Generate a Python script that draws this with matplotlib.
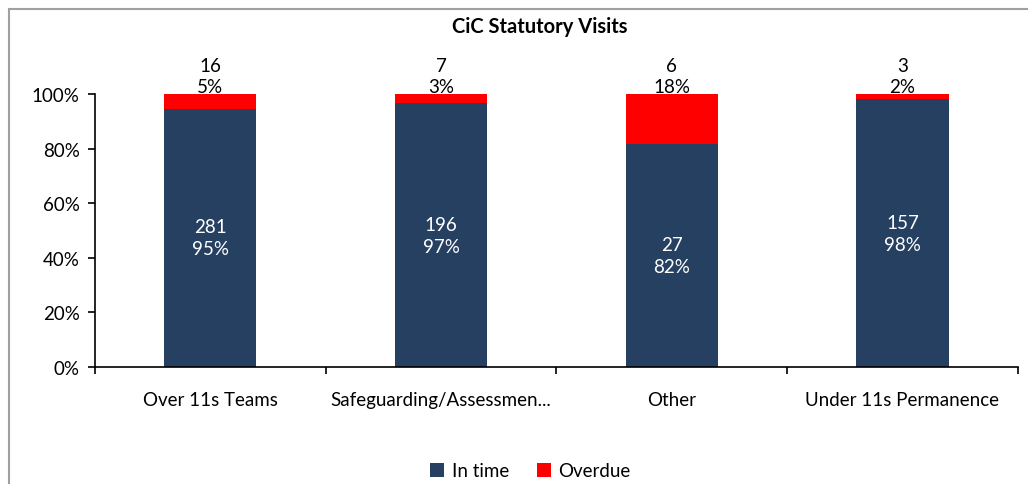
import matplotlib.pyplot as plt
from matplotlib.patches import Rectangle
from matplotlib.ticker import PercentFormatter
import numpy as np

plt.rcParams['font.family'] = ['Lato', 'DejaVu Sans']

categories = ["Over 11s Teams", "Safeguarding/Assessmen...", "Other", "Under 11s Permanence"]
in_time = [281, 196, 27, 157]
overdue = [16, 7, 6, 3]

navy = "#254061"
red = "#FF0000"
fs = 13.5

in_time = np.array(in_time)
overdue = np.array(overdue)
total = in_time + overdue
p_in = in_time / total
p_over = overdue / total

fig = plt.figure(figsize=(10.28, 4.85), dpi=100)
ax = fig.add_axes([0.0924, 0.2412, 0.8976, 0.5629])

x = np.arange(len(categories))
ax.bar(x, p_in, width=0.4, color=navy, label="In time")
ax.bar(x, p_over, width=0.4, bottom=p_in, color=red, label="Overdue")

# count + share labels
for i in range(len(x)):
    ax.text(x[i], p_in[i] / 2, f"{in_time[i]}\n{round(p_in[i] * 100):.0f}%",
            ha="center", va="center", color="white", fontsize=fs, linespacing=1.35)
    ax.annotate(f"{overdue[i]}\n{round(p_over[i] * 100):.0f}%", (x[i], 1.0),
                xytext=(0, -1), textcoords="offset points",
                ha="center", va="bottom", fontsize=fs, linespacing=1.35)

ax.set_xlim(-0.5, len(categories) - 0.5)
ax.set_ylim(0, 1)
ax.set_yticks(np.arange(0, 1.01, 0.2))
ax.yaxis.set_major_formatter(PercentFormatter(1.0, decimals=0))
ax.set_xticks(np.arange(-0.5, len(categories), 1.0))
ax.set_xticklabels([])
ax.set_xticks(x, minor=True)
ax.set_xticklabels(categories, minor=True)
ax.tick_params(axis="x", which="minor", length=0, pad=17, labelsize=fs)
ax.tick_params(axis="x", which="major", direction="out", length=5, width=1.2)
ax.tick_params(axis="y", direction="out", length=5, width=1.2, labelsize=fs, pad=6)
for s in ["top", "right"]:
    ax.spines[s].set_visible(False)
for s in ["left", "bottom"]:
    ax.spines[s].set_linewidth(1.2)

fig.text(0.525, 0.945, "CiC Statutory Visits", ha="center", va="center",
         fontsize=14.5, fontweight="bold")

fig.legend(loc="center", bbox_to_anchor=(0.516, 0.027), ncol=2, frameon=False,
           fontsize=fs, handlelength=0.75, handleheight=0.75, handletextpad=0.4,
           columnspacing=1.5)

# outer chart frame
fig.patches.append(Rectangle((9 / 1028, -0.1), 1.2, 1 - 10 / 485 + 0.1,
                             transform=fig.transFigure, fill=False,
                             edgecolor="#A0A0A0", linewidth=1.5))

fig.savefig("out.png", dpi=100)
